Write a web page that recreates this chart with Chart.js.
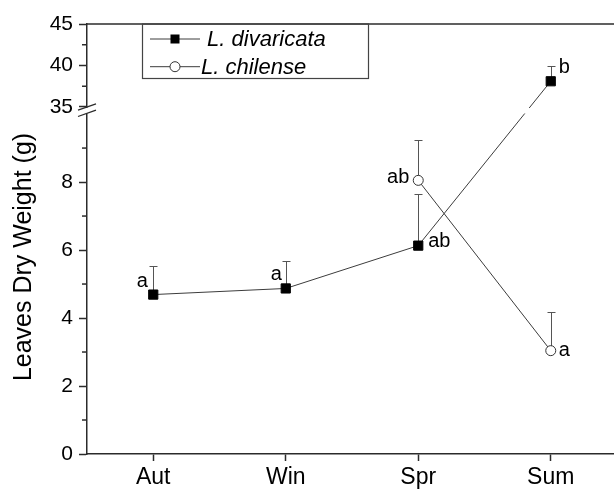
<!DOCTYPE html>
<html>
<head>
<meta charset="utf-8">
<script src="https://cdn.jsdelivr.net/npm/chart.js@4.4.1/dist/chart.umd.min.js"></script>
<style>
  html, body { margin: 0; padding: 0; background: #fff; overflow: hidden; }
  #wrap { width: 614px; height: 490px; overflow: hidden; }
</style>
</head>
<body>
<div id="wrap"><canvas id="chart" width="630" height="490"></canvas></div>
<script>
// Data
const seasons = ['Aut', 'Win', 'Spr', 'Sum'];
const divaricataMean = [4.69, 4.87, 6.13, 38.1];
const divaricataErrTop = [5.53, 5.68, 7.64, 39.9];
const divaricataLetters = ['a', 'a', 'ab', 'b'];
const chilenseMean = [null, null, 8.05, 3.04];
const chilenseErrTop = [null, null, 9.24, 4.17];
const chilenseLetters = [null, null, 'ab', 'a'];

const yTicks = [0, 2, 4, 6, 8, 35, 40, 45];
const yMinorTicks = [1, 3, 5, 7, 9, 37.5, 42.5];

// Broken axis settings
const LOW_MAX = 10.12;   // top of the lower segment
const HIGH_MIN = 35;     // bottom of the upper segment
const Y_MAX = 45;
const BREAK_LOW = 0.8;   // fraction of axis height where lower segment ends
const BREAK_HIGH = 0.807;

const FONT = "'Liberation Sans', Arial, sans-serif";
const AXIS = '#2b2b2b';
const LINE = '#3c3c3c';

// Linear scale with a gap between LOW_MAX and HIGH_MIN
class BrokenScale extends Chart.LinearScale {
    buildTicks() {
        return yTicks.map(v => ({ value: v }));
    }
    getPixelForValue(value) {
        let f;
        if (value <= LOW_MAX) f = value / LOW_MAX * BREAK_LOW;
        else if (value >= HIGH_MIN) f = BREAK_HIGH + (value - HIGH_MIN) / (Y_MAX - HIGH_MIN) * (1 - BREAK_HIGH);
        else f = BREAK_LOW + (value - LOW_MAX) / (HIGH_MIN - LOW_MAX) * (BREAK_HIGH - BREAK_LOW);
        return this.getPixelForDecimal(f);
    }
    getValueForPixel(pixel) {
        const f = this.getDecimalForPixel(pixel);
        if (f <= BREAK_LOW) return f / BREAK_LOW * LOW_MAX;
        if (f >= BREAK_HIGH) return HIGH_MIN + (f - BREAK_HIGH) / (1 - BREAK_HIGH) * (Y_MAX - HIGH_MIN);
        return LOW_MAX + (f - BREAK_LOW) / (BREAK_HIGH - BREAK_LOW) * (HIGH_MIN - LOW_MAX);
    }
}
BrokenScale.id = 'broken';
BrokenScale.defaults = Chart.LinearScale.defaults;
Chart.register(BrokenScale);

// offsets of the significance letters from their point: [dx, dy, align]
const divLetterPos = [[-5.5, -8, 'right'], [-4, -8.5, 'right'], [10, 1.5, 'left'], [8, -8, 'left']];
const chiLetterPos = [null, null, [-9, 3, 'right'], [8, 5.5, 'left']];

const errorBars = {
    id: 'errorBars',
    beforeDatasetsDraw(chart) {
        const ctx = chart.ctx;
        const x = chart.scales.x, y = chart.scales.y;
        const sets = [[divaricataMean, divaricataErrTop], [chilenseMean, chilenseErrTop]];
        ctx.save();
        ctx.strokeStyle = '#555';
        ctx.lineWidth = 1;
        sets.forEach(([mean, top]) => {
            mean.forEach((m, i) => {
                if (m === null || top[i] === null) return;
                const px = Math.round(x.getPixelForValue(i)) + 0.5;
                const y0 = y.getPixelForValue(m);
                const y1 = Math.round(y.getPixelForValue(top[i])) + 0.5;
                ctx.beginPath();
                ctx.moveTo(px, y0);
                ctx.lineTo(px, y1);
                ctx.moveTo(px - 4, y1);
                ctx.lineTo(px + 4, y1);
                ctx.stroke();
            });
        });
        ctx.restore();
    }
};

const decorations = {
    id: 'decorations',
    afterDraw(chart) {
        const ctx = chart.ctx;
        const area = chart.chartArea;
        const x = chart.scales.x, y = chart.scales.y;
        ctx.save();

        // top frame line
        ctx.strokeStyle = AXIS;
        ctx.lineWidth = 1.5;
        ctx.beginPath();
        ctx.moveTo(area.left, area.top);
        ctx.lineTo(chart.width, area.top);
        ctx.stroke();

        // minor ticks on y
        yMinorTicks.forEach(v => {
            const py = y.getPixelForValue(v);
            ctx.beginPath();
            ctx.moveTo(area.left - 5, py);
            ctx.lineTo(area.left, py);
            ctx.stroke();
        });

        // axis break
        const yb = y.getPixelForValue(HIGH_MIN);
        ctx.fillStyle = '#fff';
        ctx.fillRect(area.left - 1, yb + 1, area.right - area.left + 1, 5.5);
        ctx.lineWidth = 1.3;
        [0, 6.3].forEach(d => {
            ctx.beginPath();
            ctx.moveTo(area.left - 9, yb + d + 3.2);
            ctx.lineTo(area.left + 9, yb + d - 3.2);
            ctx.stroke();
        });

        // y title
        ctx.fillStyle = '#000';
        ctx.font = '25px ' + FONT;
        ctx.textAlign = 'center';
        ctx.textBaseline = 'middle';
        ctx.translate(24, 257);
        ctx.rotate(-Math.PI / 2);
        ctx.fillText('Leaves Dry Weight (g)', 0, 0);
        ctx.setTransform(1, 0, 0, 1, 0, 0);

        // significance letters
        ctx.font = '20px ' + FONT;
        ctx.textBaseline = 'alphabetic';
        [[divaricataMean, divaricataLetters, divLetterPos], [chilenseMean, chilenseLetters, chiLetterPos]].forEach(([mean, letters, pos]) => {
            letters.forEach((t, i) => {
                if (!t) return;
                ctx.textAlign = pos[i][2];
                ctx.fillText(t, x.getPixelForValue(i) + pos[i][0], y.getPixelForValue(mean[i]) + pos[i][1]);
            });
        });

        // legend box
        const lx = 142.5, ly = area.top, lw = 226, lh = 54.5;
        ctx.fillStyle = '#fff';
        ctx.fillRect(lx, ly + 1, lw, lh - 1);
        ctx.strokeStyle = '#444';
        ctx.lineWidth = 1.2;
        ctx.strokeRect(lx, ly, lw, lh);
        chart.data.datasets.forEach((ds, i) => {
            const ry = ly + 15 + i * 27.7;
            ctx.strokeStyle = LINE;
            ctx.lineWidth = 1;
            ctx.beginPath();
            ctx.moveTo(150, ry);
            ctx.lineTo(200, ry);
            ctx.stroke();
            ctx.fillStyle = ds.pointBackgroundColor;
            ctx.strokeStyle = ds.pointBorderColor;
            if (ds.pointStyle === 'rect') {
                ctx.fillRect(170.5, ry - 4.5, 9, 9);
            } else {
                ctx.beginPath();
                ctx.arc(175, ry, 5, 0, Math.PI * 2);
                ctx.fill();
                ctx.stroke();
            }
            ctx.fillStyle = '#000';
            ctx.font = 'italic 22px ' + FONT;
            ctx.textAlign = 'left';
            ctx.textBaseline = 'middle';
            ctx.fillText(ds.label, 201, ry + 1);
        });
        ctx.restore();
    }
};

new Chart(document.getElementById('chart'), {
    type: 'line',
    data: {
        labels: seasons,
        datasets: [
            {
                label: ' L. divaricata',
                data: divaricataMean,
                borderColor: LINE,
                borderWidth: 1,
                pointStyle: 'rect',
                pointRadius: 6.5,
                pointBackgroundColor: '#000',
                pointBorderColor: '#000',
                pointBorderWidth: 1,
                tension: 0
            },
            {
                label: 'L. chilense',
                data: chilenseMean,
                borderColor: LINE,
                borderWidth: 1,
                pointStyle: 'circle',
                pointRadius: 5,
                pointBackgroundColor: '#fff',
                pointBorderColor: '#333',
                pointBorderWidth: 1,
                spanGaps: false,
                tension: 0
            }
        ]
    },
    options: {
        responsive: false,
        animation: false,
        events: [],
        layout: { padding: { top: 24, right: 13, left: 0, bottom: 0 } },
        plugins: {
            legend: { display: false },
            tooltip: { enabled: false }
        },
        scales: {
            x: {
                type: 'category',
                offset: true,
                grid: { display: true, drawOnChartArea: false, offset: false, tickLength: 7, tickColor: AXIS, tickWidth: 1.5 },
                border: { display: true, color: AXIS, width: 1.5 },
                ticks: { color: '#000', font: { family: FONT, size: 23 }, padding: 3, maxRotation: 0 },
                afterFit(scale) { scale.height = 36; }
            },
            y: {
                type: 'broken',
                min: 0,
                max: Y_MAX,
                grid: { display: true, drawOnChartArea: false, tickLength: 8, tickColor: AXIS, tickWidth: 1.5 },
                border: { display: true, color: AXIS, width: 1.5 },
                ticks: { color: '#000', font: { family: FONT, size: 21 }, padding: 6, autoSkip: false },
                afterFit(scale) { scale.width = 87; }
            }
        }
    },
    plugins: [errorBars, decorations]
});
</script>
</body>
</html>
